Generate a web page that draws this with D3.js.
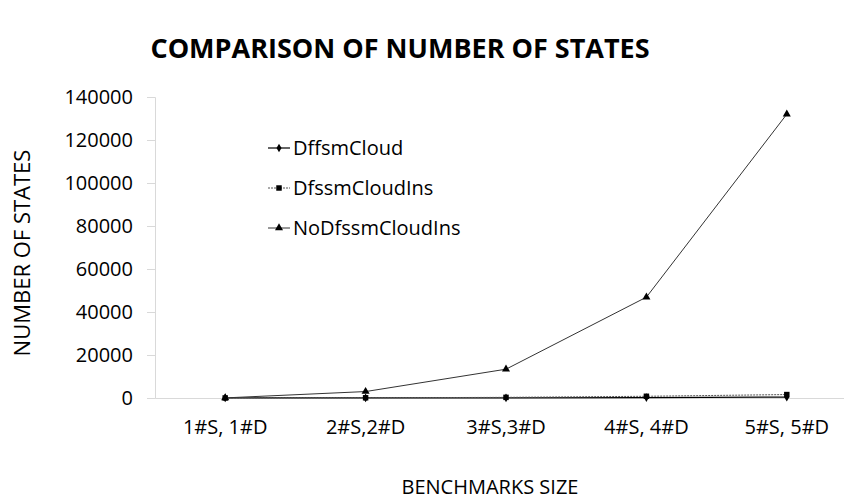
<!DOCTYPE html>
<html>
<head>
<meta charset="utf-8">
<script src="https://cdn.jsdelivr.net/npm/d3@7"></script>
<style>
  body { margin: 0; background: #fff; }
  text { font-family: "Open Sans", sans-serif; fill: #000; }
</style>
</head>
<body>
<div id="wrapper"></div>
<script>
// Chart values
const categories = ["1#S, 1#D", "2#S,2#D", "3#S,3#D", "4#S, 4#D", "5#S, 5#D"]
const dffsmCloud = [10, 30, 80, 200, 400]
const dfssmCloudIns = [20, 100, 300, 800, 1600]
const noDfssmCloudIns = [50, 3000, 13400, 46900, 132000]
const yTicks = [0, 20000, 40000, 60000, 80000, 100000, 120000, 140000]

const seriesNames = ["DffsmCloud", "DfssmCloudIns", "NoDfssmCloudIns"]
const seriesValues = [dffsmCloud, dfssmCloudIns, noDfssmCloudIns]

const dimensions = {
    width: 844,
    height: 499,
    margin: { top: 97, right: -13, bottom: 101, left: 155 },
}
dimensions.boundedWidth = dimensions.width - dimensions.margin.left - dimensions.margin.right
dimensions.boundedHeight = dimensions.height - dimensions.margin.top - dimensions.margin.bottom

const wrapper = d3.select("#wrapper")
    .append("svg")
    .attr("width", dimensions.width)
    .attr("height", dimensions.height)

const bounds = wrapper.append("g")
    .attr("transform", `translate(${dimensions.margin.left},${dimensions.margin.top})`)

const xScale = d3.scaleBand()
    .domain(categories)
    .range([0, dimensions.boundedWidth])

const yScale = d3.scaleLinear()
    .domain([0, 140000])
    .range([dimensions.boundedHeight, 0])

// y axis
const yAxis = bounds.append("g")
    .call(d3.axisLeft(yScale).tickValues(yTicks).tickSize(8).tickPadding(14).tickFormat(d3.format("d")))
yAxis.selectAll("path, line").attr("stroke", "#d9d9d9")
yAxis.selectAll("text").style("font-size", "20px").attr("fill", "#000")

// x axis
const xAxis = bounds.append("g")
    .attr("transform", `translate(0,${dimensions.boundedHeight})`)
    .call(d3.axisBottom(xScale).tickSize(0).tickPadding(22))
xAxis.select("path").attr("stroke", "#d9d9d9")
xAxis.selectAll("text").style("font-size", "20px").attr("fill", "#000")

const cx = (i) => xScale(categories[i]) + xScale.bandwidth() / 2

const lineGen = (vals) => d3.line()
    .x((d, i) => cx(i))
    .y(d => yScale(d))(vals)

const styles = [
    { stroke: "#000", width: 1.2, dash: null, symbol: d3.symbolDiamond, size: 22 },
    { stroke: "#555", width: 1, dash: "2,1", symbol: d3.symbolSquare, size: 30 },
    { stroke: "#333", width: 1, dash: null, symbol: d3.symbolTriangle, size: 28 },
]

seriesValues.forEach((vals, s) => {
    const st = styles[s]
    bounds.append("path")
        .attr("d", lineGen(vals))
        .attr("fill", "none")
        .attr("stroke", st.stroke)
        .attr("stroke-width", st.width)
        .attr("stroke-dasharray", st.dash)
    bounds.selectAll(null)
        .data(vals)
        .join("path")
        .attr("d", d3.symbol().type(st.symbol).size(st.size))
        .attr("transform", (d, i) => `translate(${cx(i)},${yScale(d)})`)
        .attr("fill", "#000")
})

// legend
const legend = wrapper.append("g")
    .attr("transform", "translate(268,148)")
seriesNames.forEach((name, s) => {
    const st = styles[s]
    const g = legend.append("g").attr("transform", `translate(0,${s * 40})`)
    g.append("line")
        .attr("x1", 0).attr("x2", 22)
        .attr("stroke", st.stroke)
        .attr("stroke-width", st.width)
        .attr("stroke-dasharray", st.dash)
    g.append("path")
        .attr("d", d3.symbol().type(st.symbol).size(st.size)())
        .attr("transform", "translate(11,0)")
        .attr("fill", "#000")
    g.append("text")
        .attr("x", 25)
        .attr("dy", "0.35em")
        .style("font-size", "20px")
        .text(name)
})

// titles
wrapper.append("text")
    .attr("x", 400)
    .attr("y", 58)
    .attr("text-anchor", "middle")
    .style("font-size", "27px")
    .style("font-weight", "bold")
    .text("COMPARISON OF NUMBER OF STATES")

wrapper.append("text")
    .attr("transform", "translate(30,253) rotate(-90)")
    .attr("text-anchor", "middle")
    .style("font-size", "22px")
    .text("NUMBER OF STATES")

wrapper.append("text")
    .attr("x", 490)
    .attr("y", 494)
    .attr("text-anchor", "middle")
    .style("font-size", "20px")
    .text("BENCHMARKS SIZE")
</script>
</body>
</html>
